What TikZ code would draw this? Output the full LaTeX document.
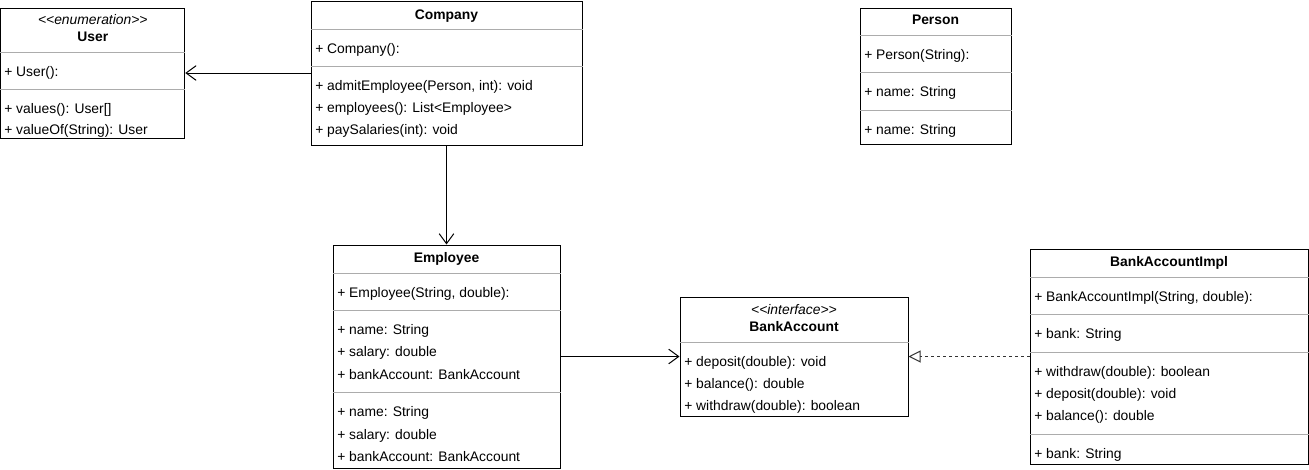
\documentclass[tikz,border=0pt]{standalone}
\usepackage{fontspec}
\setmainfont{Liberation Sans}
\usetikzlibrary{arrows.meta}

\newcommand{\stereo}[1]{<\kern0pt<#1>\kern0pt>}

\tikzset{
  umlbox/.style 2 args={draw, line width=0.75pt, inner sep=0pt, minimum width=#1*0.75pt, minimum height=#2*0.75pt},
  member/.style={anchor=west, inner sep=0pt, yshift=-1.2pt, text height=7.6pt, text depth=2.2pt, font=\fontsize{10.4}{12}\selectfont},
  classname/.style={inner sep=0pt, yshift=-1.2pt, text height=7.6pt, text depth=2.2pt, font=\fontsize{10.4}{12}\selectfont\bfseries},
  stereotype/.style={inner sep=0pt, yshift=-1.2pt, text height=7.6pt, text depth=2.2pt, font=\fontsize{10.4}{12}\selectfont\itshape},
  compartment/.style={draw=gray!65, line width=0.75pt},
  assoc/.style={line width=0.75pt, -{Straight Barb[length=7.5pt,width=11pt]}},
  realize/.style={line width=0.75pt, draw=black!80, dash pattern=on 2.25pt off 2.25pt, -{Triangle[open,length=9pt,width=9pt]}}
}

\begin{document}
\begin{tikzpicture}[x=0.75pt,y=-0.75pt]
\useasboundingbox (0,0) rectangle (1309,469);

% User
\node[umlbox={184}{130}] (user) at (92.8,73) {};
\node[stereotype] (userst) at (92.8,19) {\stereo{enumeration}};
\node[classname] (username) at (92.8,36) {User};
\draw[compartment] (user.west |- 0,52) -- (user.east |- 0,52);
\draw[compartment] (user.west |- 0,89) -- (user.east |- 0,89);
\node[member] (userc) at (4,71) {+ User():};
\node[member] (userm1) at (4,108) {+ values(): User[]};
\node[member] (userm2) at (4,129) {+ valueOf(String): User};

% Company
\node[umlbox={271}{144}] (company) at (446.5,73) {};
\node[classname] (companyname) at (446.5,14) {Company};
\draw[compartment] (company.west |- 0,29) -- (company.east |- 0,29);
\draw[compartment] (company.west |- 0,66) -- (company.east |- 0,66);
\node[member] (companyc) at (315,48) {+ Company():};
\node[member] (companym1) at (315,85) {+ admitEmployee(Person, int): void};
\node[member] (companym2) at (315,107) {+ employees(): List<Employee>};
\node[member] (companym3) at (315,129) {+ paySalaries(int): void};

% Person
\node[umlbox={151}{136}] (person) at (935.5,76) {};
\node[classname] (personname) at (935.5,19) {Person};
\draw[compartment] (person.west |- 0,35) -- (person.east |- 0,35);
\draw[compartment] (person.west |- 0,72) -- (person.east |- 0,72);
\draw[compartment] (person.west |- 0,110) -- (person.east |- 0,110);
\node[member] (personc) at (864,54) {+ Person(String):};
\node[member] (persona) at (864,91) {+ name: String};
\node[member] (personm) at (864,129) {+ name: String};

% Employee
\node[umlbox={227}{223}] (employee) at (446.5,356.5) {};
\node[classname] (employeename) at (446.5,257) {Employee};
\draw[compartment] (employee.west |- 0,273) -- (employee.east |- 0,273);
\draw[compartment] (employee.west |- 0,310) -- (employee.east |- 0,310);
\draw[compartment] (employee.west |- 0,392) -- (employee.east |- 0,392);
\node[member] (employeec) at (337,292) {+ Employee(String, double):};
\node[member] (employeea1) at (337,329) {+ name: String};
\node[member] (employeea2) at (337,351) {+ salary: double};
\node[member] (employeea3) at (337,374) {+ bankAccount: BankAccount};
\node[member] (employeem1) at (337,411) {+ name: String};
\node[member] (employeem2) at (337,434) {+ salary: double};
\node[member] (employeem3) at (337,456) {+ bankAccount: BankAccount};

% BankAccount
\node[umlbox={228}{119}] (bankaccount) at (794,356.5) {};
\node[stereotype] (bankaccountst) at (794,309) {\stereo{interface}};
\node[classname] (bankaccountname) at (794,326) {BankAccount};
\draw[compartment] (bankaccount.west |- 0,342) -- (bankaccount.east |- 0,342);
\node[member] (bankaccountm1) at (684,361) {+ deposit(double): void};
\node[member] (bankaccountm2) at (684,383) {+ balance(): double};
\node[member] (bankaccountm3) at (684,405) {+ withdraw(double): boolean};

% BankAccountImpl
\node[umlbox={278}{215}] (impl) at (1169,356.5) {};
\node[classname] (implname) at (1169,261) {BankAccountImpl};
\draw[compartment] (impl.west |- 0,277) -- (impl.east |- 0,277);
\draw[compartment] (impl.west |- 0,314) -- (impl.east |- 0,314);
\draw[compartment] (impl.west |- 0,352) -- (impl.east |- 0,352);
\draw[compartment] (impl.west |- 0,434) -- (impl.east |- 0,434);
\node[member] (implc) at (1034,296) {+ BankAccountImpl(String, double):};
\node[member] (impla) at (1034,333) {+ bank: String};
\node[member] (implm1) at (1034,371) {+ withdraw(double): boolean};
\node[member] (implm2) at (1034,393) {+ deposit(double): void};
\node[member] (implm3) at (1034,415) {+ balance(): double};
\node[member] (implm4) at (1034,453) {+ bank: String};

% relations
\draw[assoc] (company.west) -- (user.east);
\draw[assoc] (company.south) -- (employee.north);
\draw[assoc] (employee.east) -- (bankaccount.west);
\draw[realize] (impl.west) -- (bankaccount.east);
\end{tikzpicture}
\end{document}
